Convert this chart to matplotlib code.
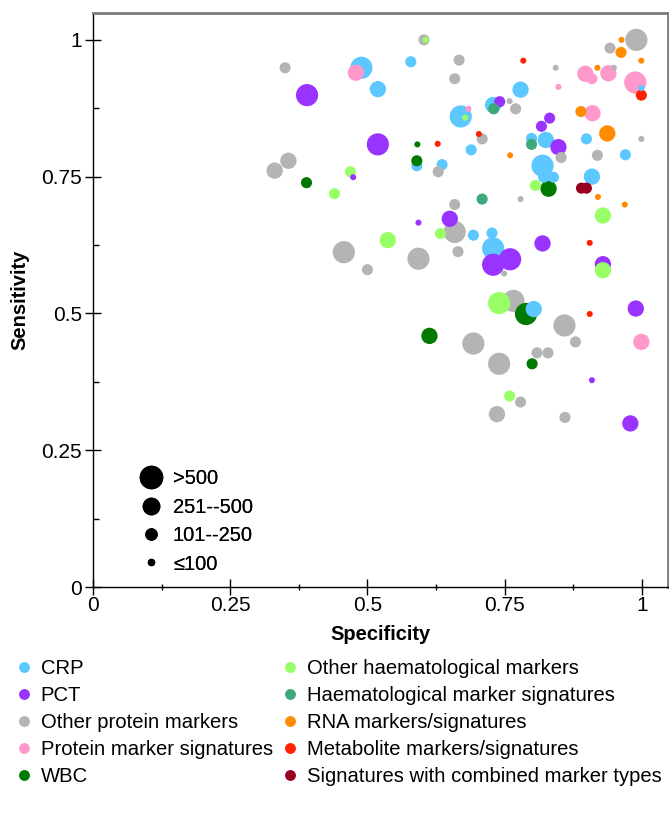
import matplotlib.pyplot as plt
from matplotlib.lines import Line2D
import numpy as np

plt.rcParams['font.family'] = ['Liberation Sans', 'DejaVu Sans']

# size classes: 4 = >500, 3 = 251--500, 2 = 101--250, 1 = <=100
crp_x = [0.489, 0.579, 0.519, 0.590, 0.636, 0.779, 0.729, 0.670, 0.689, 0.799, 0.825,
         0.899, 0.970, 0.819, 0.839, 0.821, 0.909, 0.999, 0.693, 0.727, 0.729, 0.803]
crp_y = [0.949, 0.960, 0.910, 0.770, 0.772, 0.909, 0.881, 0.860, 0.799, 0.820, 0.817,
         0.819, 0.790, 0.770, 0.749, 0.749, 0.750, 0.912, 0.643, 0.647, 0.619, 0.508]
crp_n = [4, 2, 3, 2, 2, 3, 3, 4, 2, 2, 3, 2, 2, 4, 2, 2, 3, 1, 2, 2, 4, 3]

pct_x = [0.390, 0.519, 0.474, 0.741, 0.832, 0.817, 0.848, 0.593, 0.650, 0.729, 0.760,
         0.819, 0.929, 0.989, 0.909, 0.979]
pct_y = [0.899, 0.809, 0.749, 0.887, 0.857, 0.842, 0.804, 0.666, 0.673, 0.589, 0.599,
         0.628, 0.590, 0.509, 0.378, 0.299]
pct_n = [4, 4, 1, 2, 2, 2, 3, 1, 3, 4, 4, 3, 3, 3, 1, 3]

prot_x = [0.350, 0.603, 0.356, 0.331, 0.629, 0.667, 0.659, 0.843, 0.949, 0.942, 0.990,
          0.759, 0.770, 0.709, 0.853, 0.919, 0.999, 0.779, 0.659, 0.659, 0.665, 0.749,
          0.457, 0.500, 0.593, 0.766, 0.859, 0.879, 0.693, 0.809, 0.829, 0.740, 0.779,
          0.736, 0.860]
prot_y = [0.949, 1.000, 0.779, 0.761, 0.759, 0.963, 0.929, 0.949, 0.949, 0.985, 1.000,
          0.888, 0.874, 0.819, 0.785, 0.789, 0.819, 0.709, 0.699, 0.649, 0.613, 0.573,
          0.612, 0.580, 0.600, 0.523, 0.478, 0.448, 0.445, 0.428, 0.428, 0.408, 0.338,
          0.316, 0.310]
prot_n = [2, 2, 3, 3, 2, 2, 2, 1, 1, 2, 4, 1, 2, 2, 2, 2, 1, 1, 2, 4, 2, 1, 4, 2, 4, 4,
          4, 2, 4, 2, 2, 4, 2, 3, 2]

psig_x = [0.479, 0.684, 0.848, 0.897, 0.909, 0.939, 0.988, 0.910, 0.999]
psig_y = [0.940, 0.874, 0.914, 0.938, 0.929, 0.939, 0.922, 0.866, 0.448]
psig_n = [3, 1, 1, 3, 2, 3, 4, 3, 3]

wbc_x = [0.389, 0.590, 0.591, 0.830, 0.789, 0.613, 0.800]
wbc_y = [0.739, 0.779, 0.809, 0.728, 0.499, 0.459, 0.408]
wbc_n = [2, 2, 1, 3, 4, 3, 2]

haem_x = [0.606, 0.678, 0.469, 0.440, 0.537, 0.633, 0.806, 0.929, 0.929, 0.740, 0.759]
haem_y = [1.000, 0.858, 0.759, 0.719, 0.634, 0.646, 0.734, 0.679, 0.579, 0.519, 0.349]
haem_n = [1, 1, 2, 2, 3, 2, 2, 3, 3, 4, 2]

hsig_x = [0.730, 0.799, 0.709]
hsig_y = [0.874, 0.809, 0.709]
hsig_n = [2, 2, 2]

rna_x = [0.963, 0.962, 0.999, 0.919, 0.889, 0.937, 0.760, 0.920, 0.969]
rna_y = [1.000, 0.977, 0.962, 0.949, 0.869, 0.829, 0.789, 0.713, 0.699]
rna_n = [1, 2, 1, 1, 2, 3, 1, 1, 1]

met_x = [0.628, 0.784, 0.703, 0.999, 0.905, 0.905]
met_y = [0.810, 0.962, 0.828, 0.899, 0.629, 0.499]
met_n = [1, 1, 1, 2, 1, 1]

comb_x = [0.890, 0.899]
comb_y = [0.729, 0.729]
comb_n = [2, 2]

categorias = ['CRP', 'PCT', 'Other protein markers', 'Protein marker signatures', 'WBC',
              'Other haematological markers', 'Haematological marker signatures',
              'RNA markers/signatures', 'Metabolite markers/signatures',
              'Signatures with combined marker types']
colores = ['#5CC8FF', '#9933FF', '#B4B4B4', '#FF99CC', '#007A00',
           '#99FF66', '#3DA87A', '#FF8C00', '#FF2200', '#99001F']
series = [(crp_x, crp_y, crp_n), (pct_x, pct_y, pct_n), (prot_x, prot_y, prot_n),
          (psig_x, psig_y, psig_n), (wbc_x, wbc_y, wbc_n), (haem_x, haem_y, haem_n),
          (hsig_x, hsig_y, hsig_n), (rna_x, rna_y, rna_n), (met_x, met_y, met_n),
          (comb_x, comb_y, comb_n)]

etiquetas_tam = ['>500', '251--500', '101--250', '≤100']
area = {4: 255, 3: 138, 2: 64, 1: 19}   # marker area in pt^2

# juntar todo y dibujar los grandes primero
xs, ys, ns, cs = [], [], [], []
for (x, y, n), c in zip(series, colores):
    xs += x
    ys += y
    ns += n
    cs += [c] * len(x)
xs, ys, ns = np.array(xs), np.array(ys), np.array(ns)
orden = np.argsort(-ns, kind='stable')

fig = plt.figure(figsize=(6.69, 8.16), dpi=100)
ax = fig.add_axes([0.139, 0.2806, 0.859, 0.7034])

ax.scatter(xs[orden], ys[orden], s=[area[k] for k in ns[orden]],
           c=[cs[i] for i in orden], edgecolors='none', zorder=3)

ax.set_xlim(0, 1.047)
ax.set_ylim(0, 1.049)
ticks = [0, 0.25, 0.5, 0.75, 1]
tick_lbl = ['0', '0.25', '0.5', '0.75', '1']
ax.set_xticks(ticks)
ax.set_xticklabels(tick_lbl)
ax.set_yticks(ticks)
ax.set_yticklabels(tick_lbl)
ax.set_xticks([0.125, 0.375, 0.625, 0.875], minor=True)
ax.set_yticks([0.125, 0.375, 0.625, 0.875], minor=True)
ax.tick_params(axis='both', which='major', direction='inout', length=11.5,
               width=1, labelsize=15, color='black')
ax.tick_params(axis='x', which='minor', direction='inout', length=5, width=1)
ax.tick_params(axis='y', which='minor', direction='in', length=4, width=1)
ax.tick_params(axis='x', which='major', pad=1)
ax.tick_params(axis='y', which='major', pad=2)

for lado in ['left', 'bottom']:
    ax.spines[lado].set_color('black')
    ax.spines[lado].set_linewidth(1)
for lado in ['top', 'right']:
    ax.spines[lado].set_color('#7a7a7a')
    ax.spines[lado].set_linewidth(2)

ax.set_xlabel('Specificity', fontsize=14.5, fontweight='bold', labelpad=7)
ax.set_ylabel('Sensitivity', fontsize=14.5, fontweight='bold', labelpad=9)

# leyenda de tamaños (dentro del gráfico)
diam = {k: np.sqrt(v) for k, v in area.items()}
h_tam = [Line2D([], [], ls='none', marker='o', color='black', markersize=diam[k])
         for k in [4, 3, 2, 1]]
leg_tam = ax.legend(h_tam, etiquetas_tam, loc='lower left', bbox_to_anchor=(0.062, 0.006),
                    frameon=False, fontsize=14.5, labelspacing=0.47, handletextpad=0.5,
                    borderpad=0, handlelength=1.2)
ax.add_artist(leg_tam)

# leyenda de categorías (debajo)
h_cat = [Line2D([], [], ls='none', marker='o', color=c, markersize=6.8) for c in colores]
fig.legend(h_cat, categorias, loc='upper left', bbox_to_anchor=(0.005, 0.2045), ncol=2,
           frameon=False, fontsize=14.6, labelspacing=0.39, handletextpad=0.35,
           columnspacing=0.35, handlelength=1.0, borderpad=0)

fig.savefig('out.png', dpi=100)
